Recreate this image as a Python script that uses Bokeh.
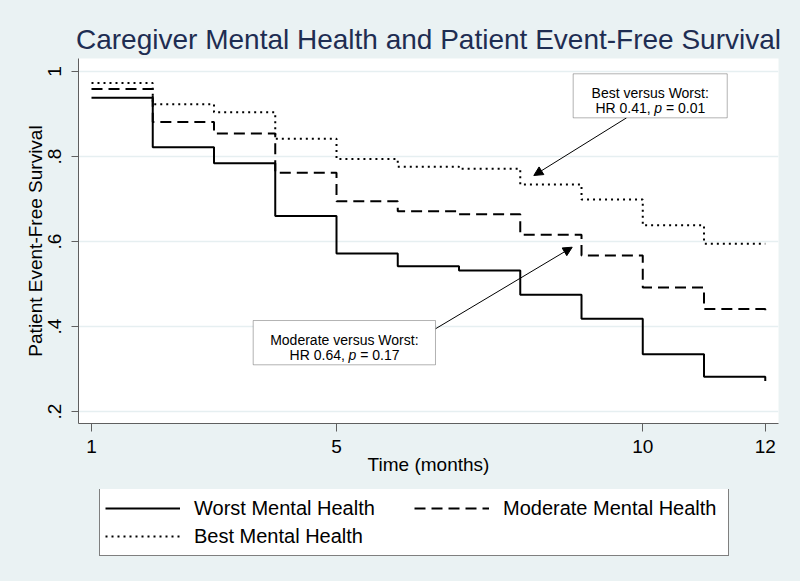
from bokeh.plotting import figure
from bokeh.layouts import column
from bokeh.models import (Range1d, FixedTicker, Legend, LegendItem, BoxAnnotation,
                          Label, Arrow, NormalHead)
from bokeh.embed import file_html
from bokeh.resources import INLINE

# ---- data ----
months = [1, 2, 3, 4, 5, 6, 7, 8, 9, 10, 11, 12]
worst = [0.938, 0.822, 0.784, 0.660, 0.572, 0.542, 0.532, 0.475, 0.418, 0.335, 0.282, 0.272]
moderate = [0.959, 0.881, 0.854, 0.762, 0.695, 0.671, 0.664, 0.616, 0.567, 0.492, 0.441, 0.435]
best = [0.973, 0.923, 0.904, 0.842, 0.794, 0.776, 0.771, 0.734, 0.699, 0.638, 0.595, 0.595]

x_ticks = [1, 5, 10, 12]
y_ticks = [0.2, 0.4, 0.6, 0.8, 1.0]
y_tick_labels = {0.2: ".2", 0.4: ".4", 0.6: ".6", 0.8: ".8", 1.0: "1"}

series_names = ["Worst Mental Health", "Moderate Mental Health", "Best Mental Health"]

title_text = "Caregiver Mental Health and Patient Event-Free Survival"
x_label = "Time (months)"
y_label = "Patient Event-Free Survival"

# annotations: (box left, right, bottom, top) and arrow (x0, y0, x1, y1) in data units
ann1_lines = ("Best versus Worst:", "HR 0.41,", "p", "= 0.01")
ann1_box = (8.864, 11.379, 0.891, 0.9946)
ann1_arrow = (9.735, 0.891, 8.221, 0.7553)
ann2_lines = ("Moderate versus Worst:", "HR 0.64,", "p", "= 0.17")
ann2_box = (3.640, 6.616, 0.3099, 0.4141)
ann2_arrow = (6.616, 0.3946, 8.848, 0.5866)

BG = "#eaf2f3"
FONT = "Liberation Sans"
AXIS_GREY = "#5f5f5f"
STYLES = [dict(line_color="black", line_width=2),
          dict(line_color="black", line_width=2, line_dash="11 6"),
          dict(line_color="black", line_width=2, line_dash="2 4")]

p = figure(width=784, height=489, output_backend="svg", toolbar_location=None,
           x_range=Range1d(0.7878, 12.216), y_range=Range1d(0.1718, 1.0306),
           min_border_left=78, min_border_right=6, min_border_top=58, min_border_bottom=66)
p.background_fill_color = "white"
p.border_fill_color = BG
p.outline_line_color = None

p.title.text = title_text
p.title.align = "center"
p.title.text_font = FONT
p.title.text_font_size = "28px"
p.title.text_font_style = "normal"
p.title.text_color = "#1e2d52"
p.title.standoff = 7

# axes
p.xaxis.ticker = FixedTicker(ticks=x_ticks)
p.yaxis.ticker = FixedTicker(ticks=y_ticks)
p.yaxis.major_label_overrides = y_tick_labels
p.yaxis.major_label_orientation = "parallel"
for ax in (p.xaxis[0], p.yaxis[0]):
    ax.axis_line_color = AXIS_GREY
    ax.major_tick_line_color = AXIS_GREY
    ax.minor_tick_line_color = None
    ax.major_tick_in = 0
    ax.major_tick_out = 8
    ax.major_label_text_font = FONT
    ax.major_label_text_font_size = "19px"
    ax.major_label_text_color = "black"
    ax.axis_label_text_font = FONT
    ax.axis_label_text_font_size = "19px"
    ax.axis_label_text_font_style = "normal"
    ax.axis_label_text_color = "black"
p.yaxis.major_tick_out = 7
p.xaxis.axis_label = x_label
p.yaxis.axis_label = y_label
p.xaxis.major_label_standoff = 8
p.xaxis.axis_label_standoff = -2
p.yaxis.major_label_standoff = 10
p.yaxis.axis_label_standoff = 0

p.xgrid.grid_line_color = None
p.ygrid.grid_line_color = "#e6eff1"
p.ygrid.grid_line_width = 1.5

# survival curves
p.step(months, worst, mode="after", **STYLES[0])
p.step(months, moderate, mode="after", **STYLES[1])
p.step(months, best, mode="after", **STYLES[2])

# annotation boxes, texts and arrows
def annotate(lines, box, arrow):
    l, r, b, t = box
    p.add_layout(BoxAnnotation(left=l, right=r, bottom=b, top=t, fill_color="white",
                               fill_alpha=1, line_color="black", line_width=1, level="overlay"))
    cx, cy = (l + r) / 2, (b + t) / 2
    common = dict(x=cx, y=cy, text_font=FONT, text_font_size="14px", text_color="black",
                  text_baseline="alphabetic", level="overlay")
    p.add_layout(Label(text=lines[0], text_align="center", y_offset=3, **common))
    p.add_layout(Label(text=lines[1], text_align="right", x_offset=0.5, y_offset=-12, **common))
    p.add_layout(Label(text=lines[2], text_align="left", x_offset=4.1, y_offset=-12,
                       text_font_style="italic", **common))
    p.add_layout(Label(text=lines[3], text_align="left", x_offset=15.8, y_offset=-12, **common))
    x0, y0, x1, y1 = arrow
    p.add_layout(Arrow(x_start=x0, y_start=y0, x_end=x1, y_end=y1, line_color="black",
                       line_width=1,
                       end=NormalHead(size=9, fill_color="black", line_color="black", line_width=1)))

annotate(ann1_lines, ann1_box, ann1_arrow)
annotate(ann2_lines, ann2_box, ann2_arrow)

# legend strip below the chart (its frame is aligned with the chart frame by the column)
lg = figure(width=784, height=76, output_backend="svg", toolbar_location=None,
            x_range=Range1d(0, 1), y_range=Range1d(0, 1),
            x_axis_type=None, y_axis_type=None,
            min_border_left=0, min_border_right=0, min_border_top=0, min_border_bottom=0)
lg.background_fill_color = BG
lg.border_fill_color = BG
lg.outline_line_color = None
lg.xgrid.visible = False
lg.ygrid.visible = False
# legend-only renderers: they hold the series' first points but sit outside this strip's ranges
dummies = [lg.line([m - 20 for m in months[:2]], ys[:2], **s)
           for s, ys in zip(STYLES, (worst, moderate, best))]

legend = Legend(items=[LegendItem(label=n, renderers=[r]) for n, r in zip(series_names, dummies)],
                orientation="horizontal", ncols=2, location=(21, 9))
legend.label_text_font = FONT
legend.label_text_font_size = "20px"
legend.label_text_color = "black"
legend.glyph_width = 75
legend.glyph_height = 20
legend.label_standoff = 14
legend.label_width = 220
legend.label_height = 28
legend.spacing = 0
legend.padding = 5
legend.margin = 0
legend.border_line_color = "black"
legend.border_line_width = 1
legend.background_fill_color = "white"
legend.background_fill_alpha = 1
lg.add_layout(legend)

layout = column(p, lg, spacing=0)
html = file_html(layout, INLINE)
html = html.replace("<head>", "<head><style>html, body { background: %s; }</style>" % BG, 1)
open("out.html", "w").write(html)
